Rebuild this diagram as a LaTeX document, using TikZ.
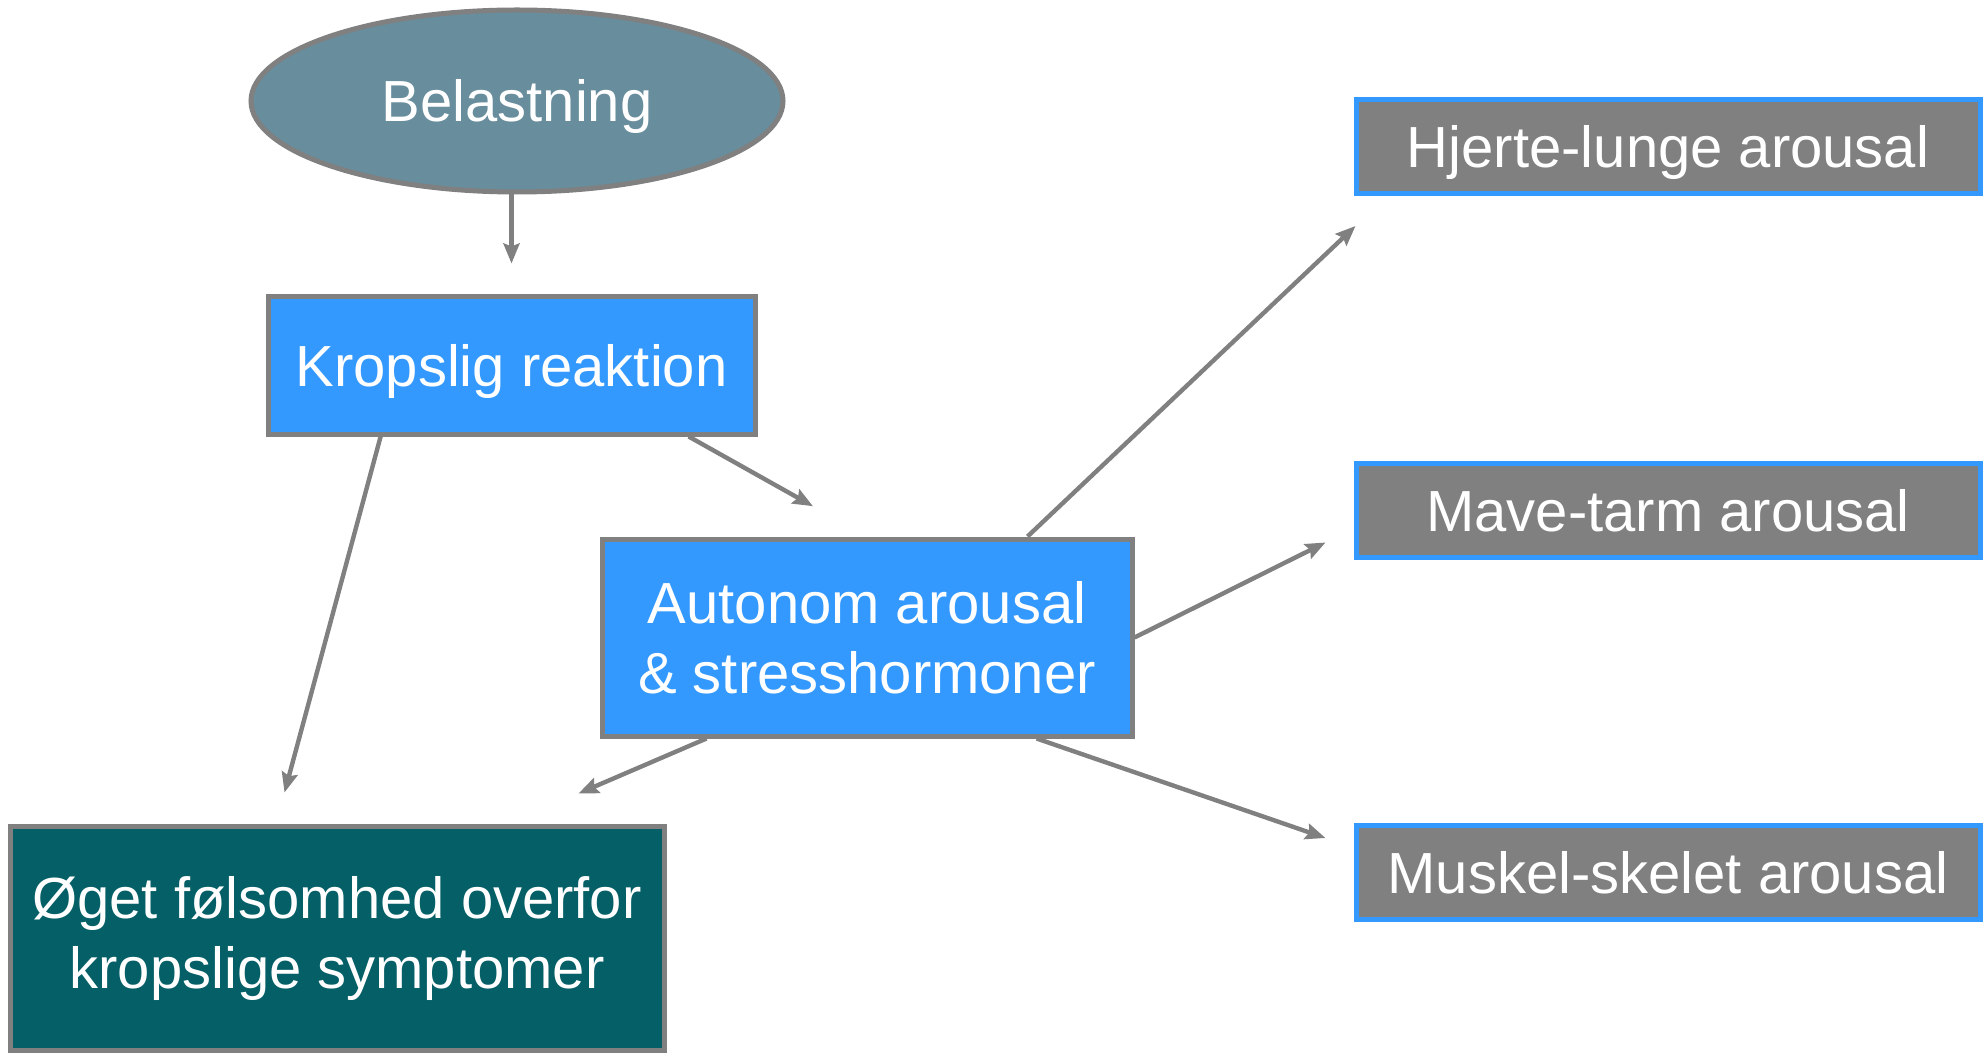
\documentclass[tikz,border=0pt]{standalone}
\usepackage{fontspec}
\setmainfont{Liberation Sans}
\usetikzlibrary{shapes.geometric,arrows.meta,calc}
\definecolor{boxblue}{HTML}{3399FF}
\definecolor{edgegray}{HTML}{808080}
\definecolor{ovalblue}{HTML}{688D9C}
\definecolor{darkteal}{HTML}{055F66}
\begin{document}
\begin{tikzpicture}[x=0.5pt,y=-0.5pt,font=\fontsize{29}{35}\selectfont,
  oneline/.style={text height=27pt,text depth=6pt},
  blok/.style={draw=edgegray,line width=2.5pt,fill=boxblue,text=white,inner sep=0pt,align=center},
  sidebox/.style={draw=boxblue,line width=2.5pt,fill=edgegray,text=white,inner sep=0pt,minimum width=312pt,minimum height=47pt,oneline},
  arr/.style={draw=edgegray,line width=2.2pt,-{Stealth[length=10pt,width=8pt,inset=1.5pt]}}]
\useasboundingbox (0,0) rectangle (1984,1053);
\node[ellipse,draw=edgegray,line width=2.5pt,fill=ovalblue,text=white,inner sep=0pt,minimum width=266pt,minimum height=91pt,oneline] (bel) at (517,101) {Belastning};
\node[blok,minimum width=243.5pt,minimum height=68.5pt,oneline] (kr) at (511.5,365.5) {Kropslig reaktion};
\node[blok,minimum width=265pt,minimum height=98.5pt] (au) at (867,637.5) {Autonom arousal\\\& stresshormoner};
\node[blok,fill=darkteal,minimum width=327pt,minimum height=112pt] (og) at (337,938) {Øget følsomhed overfor\\kropslige symptomer};
\foreach \n/\y/\t in {hj/146.5/Hjerte-lunge arousal,mv/510/Mave-tarm arousal,ms/872.5/Muskel-skelet arousal}{\node[sidebox] (\n) at (1668,\y) {\t};};
\draw[arr] (bel.south -| kr.north) -- ($(kr.north)+(0,-31)$);
\draw[arr] ($(kr.south west)!0.234!(kr.south east)$) -- ($(og.north west)+(277,-31)$);
\draw[arr,shorten >=31pt] ($(kr.south west)!0.86!(kr.south east)$) -- (au.north);
\draw[arr] ($(au.north west)!0.8!(au.north east)$) -- ($(hj.south west)+(2,30)$);
\draw[arr] (au.east) -- ($(mv.south west)+(-28,-17)$);
\draw[arr] ($(au.south west)!0.817!(au.south east)$) -- ($(ms.north west)+(-28,15)$);
\draw[arr] ($(au.south west)!0.2!(au.south east)$) -- ($(og.north east)+(-88,-30)$);
\end{tikzpicture}
\end{document}
